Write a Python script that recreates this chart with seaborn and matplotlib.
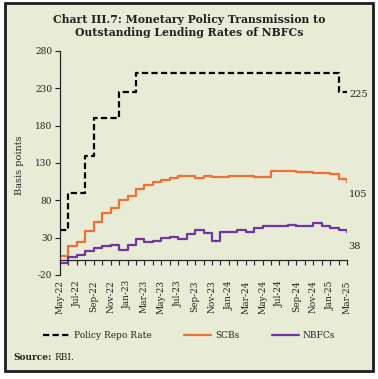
import pandas as pd
import seaborn as sns
import matplotlib.pyplot as plt
from matplotlib.patches import Rectangle
from matplotlib.ticker import FixedLocator

# monthly data, May-22 to Mar-25 (basis points)
months = ['May-22', 'Jun-22', 'Jul-22', 'Aug-22', 'Sep-22', 'Oct-22', 'Nov-22', 'Dec-22',
          'Jan-23', 'Feb-23', 'Mar-23', 'Apr-23', 'May-23', 'Jun-23', 'Jul-23', 'Aug-23',
          'Sep-23', 'Oct-23', 'Nov-23', 'Dec-23', 'Jan-24', 'Feb-24', 'Mar-24', 'Apr-24',
          'May-24', 'Jun-24', 'Jul-24', 'Aug-24', 'Sep-24', 'Oct-24', 'Nov-24', 'Dec-24',
          'Jan-25', 'Feb-25', 'Mar-25']
repo = [40, 90, 90, 140, 190, 190, 190, 225, 225, 250, 250, 250, 250, 250, 250, 250,
        250, 250, 250, 250, 250, 250, 250, 250, 250, 250, 250, 250, 250, 250, 250, 250,
        250, 225, 225]
scbs = [6, 19, 24, 39, 51, 63, 70, 80, 86, 95, 100, 104, 107, 110, 113, 113,
        110, 113, 111, 111, 113, 113, 113, 111, 111, 119, 119, 119, 118, 118, 116, 116,
        115, 108, 105]
nbfcs = [-4, 4, 7, 12, 16, 19, 20, 14, 20, 28, 24, 25, 30, 31, 28, 35,
         40, 36, 25, 38, 37, 40, 37, 43, 45, 45, 46, 47, 45, 45, 50, 45,
         43, 40, 37]
yticks = [-20, 30, 80, 130, 180, 230, 280]

df = pd.DataFrame({'idx': range(len(months)), 'Month': months,
                   'Policy Repo Rate': repo, 'SCBs': scbs, 'NBFCs': nbfcs})

sns.set_style('ticks')
plt.rcParams['font.family'] = ['DejaVu Serif']
plt.rcParams['text.color'] = '#222222'
plt.rcParams['axes.unicode_minus'] = False

fig = plt.figure(figsize=(3.78, 3.79), dpi=100, facecolor='white')
fig.patches.append(Rectangle((5 / 378, 1 - 371 / 379), 368 / 378, 368 / 379,
                             transform=fig.transFigure, facecolor='#E8EBD6',
                             edgecolor='#1e1e1e', lw=2, zorder=-5))

ax = fig.add_axes([60 / 378, 1 - 275 / 379, 287 / 378, 224 / 379])
ax.set_facecolor('none')

sns.lineplot(data=df, x='idx', y='Policy Repo Rate', ax=ax, color='black', lw=1.6,
             linestyle=(0, (2.8, 1.5)), drawstyle='steps-post', errorbar=None,
             label='Policy Repo Rate')
sns.lineplot(data=df, x='idx', y='SCBs', ax=ax, color='#EE7133', lw=1.6,
             drawstyle='steps-post', errorbar=None, label='SCBs')
sns.lineplot(data=df, x='idx', y='NBFCs', ax=ax, color='#7035A0', lw=1.6,
             drawstyle='steps-post', errorbar=None, label='NBFCs')

ax.set_xlim(0, len(months) - 1)
ax.set_ylim(-20, 280)
ax.set_yticks(yticks)
ax.xaxis.set_major_locator(FixedLocator(range(0, len(months), 2)))
ax.xaxis.set_minor_locator(FixedLocator(range(1, len(months), 2)))
ax.set_xticklabels(months[::2])

ax.spines['top'].set_visible(False)
ax.spines['right'].set_visible(False)
ax.spines['bottom'].set_position(('data', 0))
ax.spines['left'].set_linewidth(0.9)
ax.spines['bottom'].set_linewidth(0.9)
ax.tick_params(axis='x', which='both', direction='out', length=3.5, width=0.8,
               pad=11, labelsize=6.5, colors='#222222', labelrotation=90)
ax.tick_params(axis='y', direction='out', length=3.5, width=0.8, pad=2,
               labelsize=6.5, colors='#222222')

ax.set_xlabel('')
ax.set_ylabel('Basis points', fontsize=7)
ax.yaxis.set_label_coords(-0.125, 0.49)

# end-point labels
last = len(months) - 1
ax.annotate(str(repo[-1]), (last, repo[-1]), xytext=(2, -1.5), textcoords='offset points',
            ha='left', va='center', fontsize=7)
ax.annotate(str(scbs[-1]), (last, scbs[-1]), xytext=(1, -9.5), textcoords='offset points',
            ha='left', va='center', fontsize=7)
ax.annotate('38', (last, nbfcs[-1]), xytext=(1, -10), textcoords='offset points',
            ha='left', va='center', fontsize=7)

ax.get_legend().remove()
fig.legend(handles=ax.get_lines()[:3], labels=['Policy Repo Rate', 'SCBs', 'NBFCs'],
           loc='center', bbox_to_anchor=(189 / 378, 1 - 336 / 379), ncol=3,
           frameon=False, fontsize=6.5, handlelength=3.0, columnspacing=3.6,
           handletextpad=0.4)

fig.text(0.5, 1 - 26 / 379, 'Chart III.7: Monetary Policy Transmission to\nOutstanding Lending Rates of NBFCs',
         ha='center', va='center', fontsize=7.8, fontweight='bold', linespacing=1.3)
fig.text(13 / 378, 1 - 357 / 379, 'Source:', ha='left', va='center', fontsize=6.5,
         fontweight='bold')
fig.text(54 / 378, 1 - 357 / 379, 'RBI.', ha='left', va='center', fontsize=6.5)

fig.savefig('out.png', dpi=100, facecolor='white')
